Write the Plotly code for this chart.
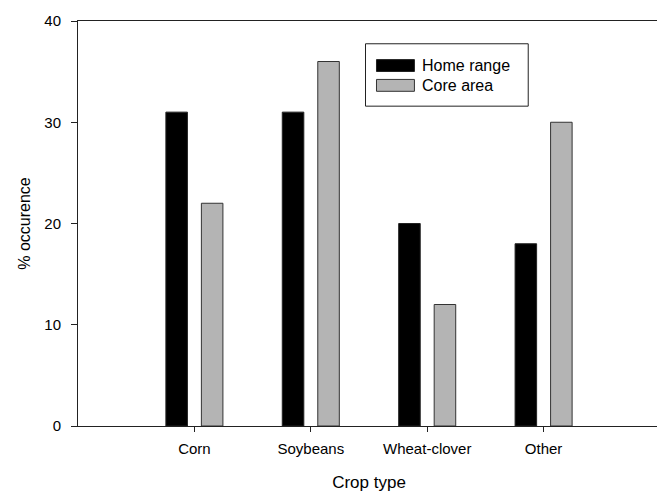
import plotly.graph_objects as go

categories = ["Corn", "Soybeans", "Wheat-clover", "Other"]
home_range = [31, 31, 20, 18]
core_area = [22, 36, 12, 30]
series_names = ["Home range", "Core area"]
y_ticks = [0, 10, 20, 30, 40]

FONT = "Liberation Sans, Arial, sans-serif"
HOME_COLOR = "#000000"
CORE_COLOR = "#b4b4b4"

fig = go.Figure()
fig.add_trace(go.Bar(
    x=categories, y=home_range, name=series_names[0],
    offset=-0.245, width=0.185,
    marker=dict(color=HOME_COLOR, line=dict(color="#222222", width=1)),
    showlegend=False,
))
fig.add_trace(go.Bar(
    x=categories, y=core_area, name=series_names[1],
    offset=0.06, width=0.185,
    marker=dict(color=CORE_COLOR, line=dict(color="#333333", width=1)),
    showlegend=False,
))

# page body has an 8px offset; plot area target in page px:
L, R, T, B = 78, 661, 18, 427
W, H = R - L, B - T
def px(x):
    return (x - L) / W
def py(y):
    return 1 - (y - T) / H

shapes = [
    dict(type="rect", xref="paper", yref="paper", x0=px(366), x1=px(529), y0=py(104), y1=py(41),
         line=dict(color="#222222", width=1), fillcolor="white", layer="above"),
    dict(type="rect", xref="paper", yref="paper", x0=px(377), x1=px(415), y0=py(69), y1=py(57),
         line=dict(color="#222222", width=1), fillcolor=HOME_COLOR, layer="above"),
    dict(type="rect", xref="paper", yref="paper", x0=px(377), x1=px(415), y0=py(89), y1=py(77),
         line=dict(color="#333333", width=1), fillcolor=CORE_COLOR, layer="above"),
]
annotations = [
    dict(text=series_names[0], xref="paper", yref="paper", x=px(421), y=py(63), xanchor="left",
         yanchor="middle", showarrow=False, font=dict(family=FONT, size=16, color="black")),
    dict(text=series_names[1], xref="paper", yref="paper", x=px(421), y=py(83), xanchor="left",
         yanchor="middle", showarrow=False, font=dict(family=FONT, size=16, color="black")),
]

fig.update_layout(
    width=657, height=485,
    margin=dict(l=70, r=4, t=10, b=66),
    paper_bgcolor="white", plot_bgcolor="white",
    barmode="overlay",
    font=dict(family=FONT, size=15, color="black"),
    shapes=shapes, annotations=annotations,
    xaxis=dict(
        type="category", range=[-1, 4],
        showline=True, linecolor="#222222", linewidth=1, mirror=True,
        ticks="outside", ticklen=5, tickcolor="#222222",
        showgrid=False, zeroline=False,
        tickfont=dict(size=15),
        ticklabelstandoff=4,
        title=dict(text="Crop type", font=dict(size=17), standoff=20),
    ),
    yaxis=dict(
        range=[0, 40], tickvals=y_ticks,
        showline=True, linecolor="#222222", linewidth=1, mirror=True,
        ticks="outside", ticklen=6, tickcolor="#222222",
        showgrid=False, zeroline=False,
        tickfont=dict(size=15),
        ticklabelstandoff=7,
        title=dict(text="% occurence", font=dict(size=16), standoff=9),
    ),
)

fig.write_html("out.html")
